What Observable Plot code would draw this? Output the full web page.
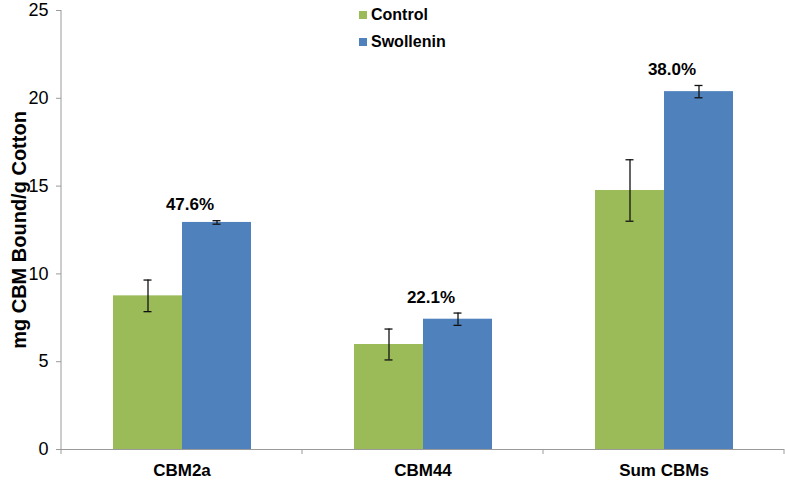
<!DOCTYPE html>
<html><head><meta charset="utf-8">
<script src="https://cdn.jsdelivr.net/npm/d3@7"></script>
<script src="https://cdn.jsdelivr.net/npm/@observablehq/plot@0.6"></script>
<style>
body{margin:0;background:#fff;font-family:"Liberation Sans",Arial,Helvetica,sans-serif;}
#wrap{position:relative;width:785px;height:482px;}
#legend{position:absolute;left:359px;top:1px;font-weight:bold;font-size:16px;color:#000;}
.item{display:flex;align-items:center;height:27px;}
.sw{width:8px;height:8px;margin-right:4px;}
</style></head><body>
<div id="wrap"><div id="legend"></div></div>
<script>
const categories = ["CBM2a", "CBM44", "Sum CBMs"];
const series = ["Control", "Swollenin"];
const controlMean = [8.75, 5.98, 14.75];
const controlErr = [0.9, 0.88, 1.75];
const swolleninMean = [12.93, 7.42, 20.38];
const swolleninErr = [0.1, 0.35, 0.35];
const increaseLabels = ["47.6%", "22.1%", "38.0%"];
const yTicks = [0, 5, 10, 15, 20, 25];
const colors = ["#9BBB59", "#4F81BD"];
const yTitle = "mg CBM Bound/g Cotton";

const rows = categories.flatMap((c, i) => [
  {category: c, series: series[0], value: controlMean[i], err: controlErr[i]},
  {category: c, series: series[1], value: swolleninMean[i], err: swolleninErr[i]}
]);
const labelRows = categories.map((c, i) => ({category: c, label: increaseLabels[i], top: swolleninMean[i] + swolleninErr[i]}));
const lo = d => d.value - d.err;
const hi = d => d.value + d.err;

const chart = Plot.plot({
  width: 785, height: 482,
  marginLeft: 61, marginRight: 1, marginTop: 10, marginBottom: 33,
  style: {fontFamily: '"Liberation Sans", Arial, Helvetica, sans-serif', fontSize: "18px", color: "#000", background: "transparent", overflow: "visible"},
  fx: {domain: categories, padding: 0, label: null},
  x: {domain: series, paddingInner: 0, paddingOuter: 0.746, axis: null},
  y: {domain: [0, 25], label: null},
  color: {domain: series, range: colors},
  marks: [
    Plot.barY(rows, {fx: "category", x: "series", y: "value", fill: "series"}),
    Plot.ruleY([0], {stroke: "#9a9a9a", strokeWidth: 1}),
    Plot.ruleX(rows, {fx: "category", x: "series", y1: lo, y2: hi, stroke: "#111", strokeWidth: 1.3}),
    Plot.tickY(rows, {fx: "category", x: "series", y: lo, insetLeft: 30.5, insetRight: 30.5, stroke: "#111", strokeWidth: 1.3}),
    Plot.tickY(rows, {fx: "category", x: "series", y: hi, insetLeft: 30.5, insetRight: 30.5, stroke: "#111", strokeWidth: 1.3}),
    Plot.text(labelRows, {fx: "category", y: "top", text: "label", dx: 8, dy: -16, fontWeight: "bold", fontSize: 17, fill: "#000"}),
    Plot.text([{category: categories[0]}], {fx: "category", frameAnchor: "left", textAnchor: "middle", text: () => yTitle, rotate: -90, dx: -42, fontWeight: "bold", fontSize: 20, fill: "#000"}),
    Plot.axisY({ticks: yTicks, tickSize: 5, tickPadding: 8, label: null, stroke: "#9a9a9a", fill: "#000", fontSize: 18}),
    Plot.axisFx({anchor: "bottom", tickSize: 0, tickPadding: 14, label: null, fontWeight: "bold", fontSize: 17, fill: "#000"})
  ]
});

document.getElementById("wrap").prepend(chart);

// axis line and category boundary ticks, positioned from Plot's own scales
const fxS = chart.scale("fx");
const yS = chart.scale("y");
const svg = d3.select(chart);
const x0 = fxS.apply(categories[0]);
const y0 = yS.apply(0);
const yTop = yS.apply(d3.max(yTicks));
svg.append("line").attr("x1", x0).attr("x2", x0).attr("y1", yTop).attr("y2", y0)
  .attr("stroke", "#9a9a9a");
const bounds = [x0, ...categories.map(c => fxS.apply(c) + fxS.bandwidth)];
svg.selectAll("line.bnd").data(bounds).join("line").attr("class", "bnd")
  .attr("x1", d => d).attr("x2", d => d).attr("y1", y0).attr("y2", y0 + 5)
  .attr("stroke", "#9a9a9a");

// legend
const legend = d3.select("#legend");
series.forEach((s, i) => {
  const item = legend.append("div").attr("class", "item");
  item.append("div").attr("class", "sw").style("background", colors[i]);
  item.append("span").text(s);
});
</script>
</body></html>
